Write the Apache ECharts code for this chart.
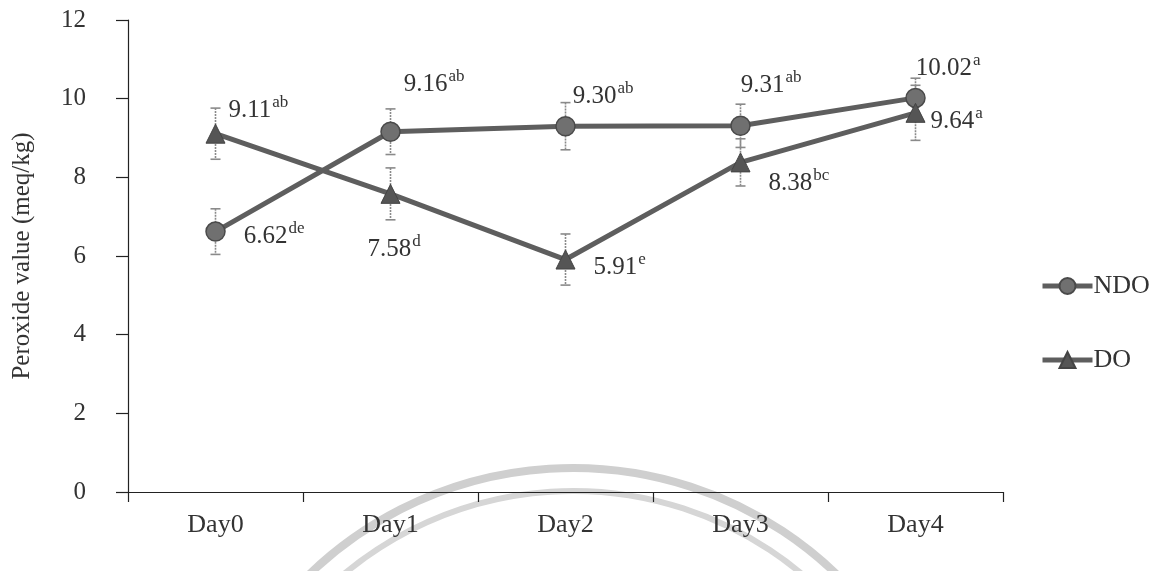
<!DOCTYPE html>
<html>
<head>
<meta charset="utf-8">
<script src="https://cdn.jsdelivr.net/npm/echarts@6/dist/echarts.min.js"></script>
<style>html,body{margin:0;padding:0;background:#fff;}#c{width:1174px;height:571px;}</style>
</head>
<body>
<div id="c"></div>
<script>
const categories = ['Day0', 'Day1', 'Day2', 'Day3', 'Day4'];
const ndoValues = [6.62, 9.16, 9.30, 9.31, 10.02];
const doValues = [9.11, 7.58, 5.91, 8.38, 9.64];
const ndoErr = [0.58, 0.58, 0.6, 0.55, 0.5];
const doErr = [0.65, 0.66, 0.65, 0.6, 0.7];
const ndoSig = ['de', 'ab', 'ab', 'ab', 'a'];
const doSig = ['ab', 'd', 'e', 'bc', 'a'];
const yTicks = [0, 2, 4, 6, 8, 10, 12];

// label placement offsets (style only)
const ndoLabelOffset = [[18, 2], [3, -50], [-3, -32], [-10, -43], [-10, -32]];
const doLabelOffset = [[3, -26], [-33, 53], [18, 5], [18, 19], [5, 6]];

const FONT = '"Liberation Serif", "Times New Roman", serif';
const richLabel = {
  v: { fontSize: 25, fontFamily: FONT, color: '#333', lineHeight: 30, verticalAlign: 'bottom' },
  s: { fontSize: 17, fontFamily: FONT, color: '#333', lineHeight: 30, verticalAlign: 'top', padding: [1, 0, 0, 1] }
};

function buildData(values, sig, offs) {
  return values.map((v, i) => ({
    value: v,
    label: {
      show: true,
      position: 'right',
      offset: offs[i],
      distance: 0,
      formatter: '{v|' + v.toFixed(2) + '}{s|' + sig[i] + '}',
      rich: richLabel
    }
  }));
}

function errData(values, errs) {
  return values.map((v, i) => [i, v - errs[i], v + errs[i]]);
}

function errRender(params, api) {
  const x = api.value(0);
  const lo = api.coord([x, api.value(1)]);
  const hi = api.coord([x, api.value(2)]);
  const cap = 5;
  const col = '#8a8a8a';
  return {
    type: 'group',
    children: [
      { type: 'line', shape: { x1: hi[0], y1: hi[1], x2: lo[0], y2: lo[1] }, style: { stroke: col, lineWidth: 1.6, lineDash: [2, 1] } },
      { type: 'line', shape: { x1: hi[0] - cap, y1: hi[1], x2: hi[0] + cap, y2: hi[1] }, style: { stroke: col, lineWidth: 1.6 } },
      { type: 'line', shape: { x1: lo[0] - cap, y1: lo[1], x2: lo[0] + cap, y2: lo[1] }, style: { stroke: col, lineWidth: 1.6 } }
    ]
  };
}

const chart = echarts.init(document.getElementById('c'), null, { renderer: 'canvas' });
chart.setOption({
  backgroundColor: '#fff',
  animation: false,
  textStyle: { fontFamily: FONT },
  graphic: [
    { type: 'arc', z: -10, silent: true, shape: { cx: 573, cy: 848, r: 380, startAngle: Math.PI * 1.1, endAngle: Math.PI * 1.95 }, style: { stroke: '#cfcfcf', lineWidth: 8, fill: null } },
    { type: 'arc', z: -10, silent: true, shape: { cx: 573, cy: 848, r: 357, startAngle: Math.PI * 1.1, endAngle: Math.PI * 1.95 }, style: { stroke: '#d6d6d6', lineWidth: 6, fill: null } }
  ],
  grid: { left: 128, right: 171, top: 20, bottom: 79, containLabel: false },
  legend: {
    orient: 'vertical',
    left: 1035,
    top: 268,
    itemWidth: 50,
    itemHeight: 20,
    itemGap: 48,
    lineStyle: { width: 5, color: '#5e5e5e' },
    textStyle: { fontSize: 26, fontFamily: FONT, color: '#333', padding: [0, 0, 0, -4] },
    data: ['NDO', 'DO']
  },
  xAxis: {
    type: 'category',
    data: categories,
    boundaryGap: true,
    axisLine: { lineStyle: { color: '#222', width: 1.2 } },
    axisTick: { show: true, length: 10, lineStyle: { color: '#222', width: 1.2 } },
    axisLabel: { fontSize: 26, fontFamily: FONT, color: '#333', margin: 20 }
  },
  yAxis: {
    type: 'value',
    min: yTicks[0],
    max: yTicks[yTicks.length - 1],
    interval: 2,
    name: 'Peroxide value (meq/kg)',
    nameLocation: 'middle',
    nameGap: 93,
    nameTextStyle: { fontSize: 25, fontFamily: FONT, color: '#333' },
    axisLine: { show: true, lineStyle: { color: '#222', width: 1.2 } },
    axisTick: { show: true, length: 12, lineStyle: { color: '#222', width: 1.2 } },
    axisLabel: { fontSize: 25, fontFamily: FONT, color: '#333', margin: 42 },
    splitLine: { show: false }
  },
  series: [
    { type: 'custom', renderItem: errRender, data: errData(ndoValues, ndoErr), z: 1, silent: true },
    { type: 'custom', renderItem: errRender, data: errData(doValues, doErr), z: 1, silent: true },
    {
      name: 'NDO',
      type: 'line',
      data: buildData(ndoValues, ndoSig, ndoLabelOffset),
      symbol: 'circle',
      symbolSize: 19,
      lineStyle: { color: '#5e5e5e', width: 5 },
      itemStyle: { color: '#707070', borderColor: '#4a4a4a', borderWidth: 1.5 },
      z: 3
    },
    {
      name: 'DO',
      type: 'line',
      data: buildData(doValues, doSig, doLabelOffset),
      symbol: 'triangle',
      symbolSize: 19,
      lineStyle: { color: '#5e5e5e', width: 5 },
      itemStyle: { color: '#555555', borderColor: '#444', borderWidth: 1 },
      z: 3
    }
  ]
});
</script>
</body>
</html>
